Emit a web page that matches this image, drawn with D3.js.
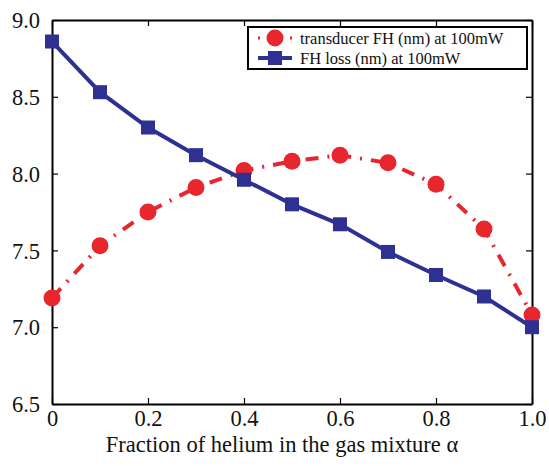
<!DOCTYPE html>
<html>
<head>
<meta charset="utf-8">
<script src="https://cdn.jsdelivr.net/npm/d3@7"></script>
<style>
  body { margin: 0; background: #fff; }
</style>
</head>
<body>
<div id="chart"></div>
<script>
const alpha = [0, 0.1, 0.2, 0.3, 0.4, 0.5, 0.6, 0.7, 0.8, 0.9, 1.0];
const transducerFH = [7.19, 7.53, 7.75, 7.91, 8.02, 8.08, 8.12, 8.07, 7.93, 7.64, 7.08];
const lossFH = [8.86, 8.53, 8.30, 8.12, 7.96, 7.80, 7.67, 7.49, 7.34, 7.20, 7.00];
const xTicks = [0, 0.2, 0.4, 0.6, 0.8, 1.0];
const yTicks = [6.5, 7.0, 7.5, 8.0, 8.5, 9.0];
const legendLabels = ["transducer FH (nm) at 100mW", "FH loss (nm) at 100mW"];

const width = 549, height = 466;
const margin = {top: 20, right: 17, bottom: 62, left: 52};
const w = width - margin.left - margin.right;
const h = height - margin.top - margin.bottom;

const red = "#e8262e", blue = "#2e3092";
const serif = "\"Liberation Serif\"";

const svg = d3.select("#chart").append("svg")
    .attr("width", width)
    .attr("height", height);

const g = svg.append("g")
    .attr("transform", `translate(${margin.left}, ${margin.top})`);

const x = d3.scaleLinear().domain([0, 1]).range([0, w]);
const y = d3.scaleLinear().domain([6.5, 9.0]).range([h, 0]);

// axes, ticks pointing inward
const fmtX = d => d === 0 ? "0" : d3.format(".1f")(d);
const fmtY = d3.format(".1f");

const xb = g.append("g").attr("transform", `translate(0, ${h})`)
    .call(d3.axisBottom(x).tickValues(xTicks).tickFormat(fmtX).tickSizeInner(-6).tickSizeOuter(0).tickPadding(6));
const xt = g.append("g")
    .call(d3.axisTop(x).tickValues(xTicks).tickFormat("").tickSizeInner(-6).tickSizeOuter(0));
const yl = g.append("g")
    .call(d3.axisLeft(y).tickValues(yTicks).tickFormat(fmtY).tickSizeInner(-6).tickSizeOuter(0).tickPadding(12));
const yr = g.append("g").attr("transform", `translate(${w}, 0)`)
    .call(d3.axisRight(y).tickValues(yTicks).tickFormat("").tickSizeInner(-6).tickSizeOuter(0));

[xb, xt, yl, yr].forEach(a => {
    a.attr("font-family", serif).attr("font-size", 22.5);
    a.select(".domain").attr("stroke", "#000").attr("stroke-width", 2);
    a.selectAll(".tick line").attr("stroke", "#000").attr("stroke-width", 1.2);
    a.selectAll("text").attr("fill", "#111");
});
xb.selectAll(".tick text").attr("dy", "0.71em");
yl.selectAll(".tick text").attr("dy", "0.34em");

g.append("text")
    .attr("x", w / 2 - 10)
    .attr("y", h + 48)
    .attr("text-anchor", "middle")
    .attr("font-family", serif)
    .attr("font-size", 22.5)
    .attr("fill", "#111")
    .text("Fraction of helium in the gas mixture α");

// lines
const line = d3.line().x((d, i) => x(alpha[i])).y(d => y(d));

g.append("path")
    .datum(transducerFH)
    .attr("d", line)
    .attr("fill", "none")
    .attr("stroke", red)
    .attr("stroke-width", 4)
    .attr("stroke-dasharray", "13,9,2,9");

g.selectAll(".redpt")
    .data(transducerFH)
    .enter().append("circle")
    .attr("class", "redpt")
    .attr("cx", (d, i) => x(alpha[i]))
    .attr("cy", d => y(d))
    .attr("r", 8.5)
    .attr("fill", red);

g.append("path")
    .datum(lossFH)
    .attr("d", line)
    .attr("fill", "none")
    .attr("stroke", blue)
    .attr("stroke-width", 4);

const sq = 14;
g.selectAll(".bluept")
    .data(lossFH)
    .enter().append("rect")
    .attr("class", "bluept")
    .attr("x", (d, i) => x(alpha[i]) - sq / 2)
    .attr("y", d => y(d) - sq / 2)
    .attr("width", sq)
    .attr("height", sq)
    .attr("fill", blue);

// legend
const lg = svg.append("g").attr("transform", "translate(248, 27)");
lg.append("rect")
    .attr("width", 279).attr("height", 42)
    .attr("fill", "#fff").attr("stroke", "#000").attr("stroke-width", 2);

const rows = [11, 31];
lg.append("line").attr("x1", 10).attr("x2", 44).attr("y1", rows[0]).attr("y2", rows[0])
    .attr("stroke", red).attr("stroke-width", 3).attr("stroke-dasharray", "2,30");
lg.append("circle").attr("cx", 27).attr("cy", rows[0]).attr("r", 8.5).attr("fill", red);
lg.append("line").attr("x1", 10).attr("x2", 44).attr("y1", rows[1]).attr("y2", rows[1])
    .attr("stroke", blue).attr("stroke-width", 4);
lg.append("rect").attr("x", 27 - sq / 2).attr("y", rows[1] - sq / 2)
    .attr("width", sq).attr("height", sq).attr("fill", blue);

lg.selectAll(".lt")
    .data(legendLabels)
    .enter().append("text")
    .attr("class", "lt")
    .attr("x", 52)
    .attr("y", (d, i) => rows[i])
    .attr("dy", "0.35em")
    .attr("font-family", serif)
    .attr("font-size", 16.5)
    .attr("fill", "#111")
    .text(d => d);
</script>
</body>
</html>
